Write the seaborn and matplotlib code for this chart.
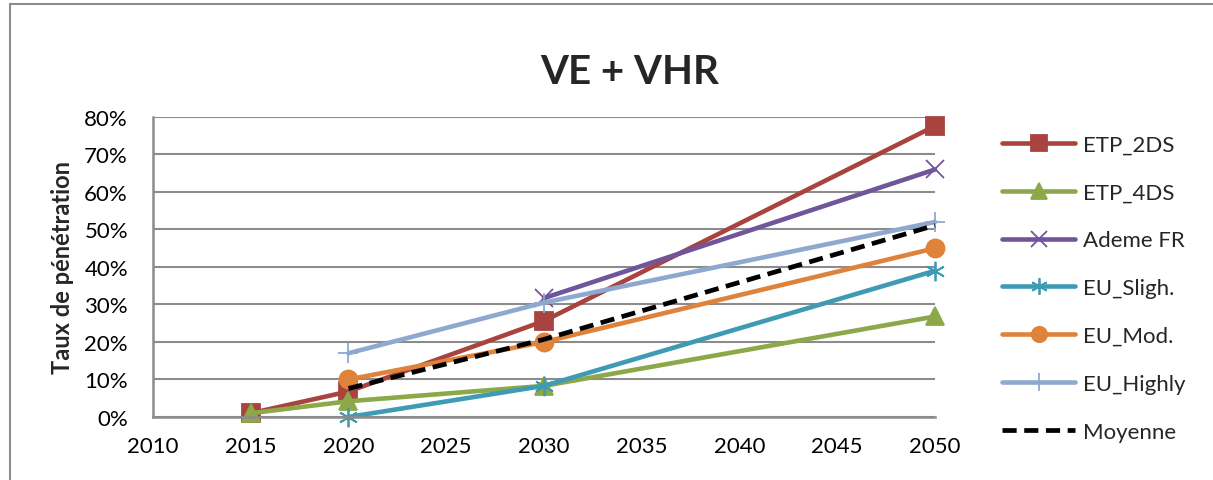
import matplotlib
matplotlib.use("Agg")
import matplotlib.pyplot as plt
from matplotlib.patches import Rectangle
from matplotlib.lines import Line2D
import seaborn as sns

# Penetration rates (%) of EV + PHEV by scenario
years_etp = [2015, 2020, 2030, 2050]
etp_2ds = [1.0, 6.8, 25.6, 77.6]
etp_4ds = [1.0, 4.2, 8.3, 26.8]

years_ademe = [2030, 2050]
ademe_fr = [31.7, 66.0]

years_eu = [2020, 2030, 2050]
eu_sligh = [0.0, 8.3, 39.0]
eu_mod = [10.0, 20.0, 45.0]
eu_highly = [17.0, 30.5, 52.0]

years_moy = [2020, 2030, 2050]
moyenne = [7.6, 20.7, 51.1]

y_ticks = [0, 10, 20, 30, 40, 50, 60, 70, 80]
x_ticks = [2010, 2015, 2020, 2025, 2030, 2035, 2040, 2045, 2050]

sns.set_style("white")
plt.rcParams["font.family"] = ["Lato", "DejaVu Sans"]

fig = plt.figure(figsize=(12.13, 4.81), dpi=100)
ax = fig.add_axes([0.1261, 0.131, 0.7708 - 0.1261, 0.7547 - 0.131])

# outer chart border
fig.patches.append(Rectangle((10 / 1213, -0.05), 1.1, (481 - 5) / 481 + 0.05,
                             transform=fig.transFigure, fill=False,
                             edgecolor="#8c8c8c", linewidth=1.5))

lw = 3.3
series = [
    ("ETP_2DS", years_etp, etp_2ds, "#A9433F", "s", 13, "-"),
    ("ETP_4DS", years_etp, etp_4ds, "#8CA848", "^", 13, "-"),
    ("Ademe FR", years_ademe, ademe_fr, "#70559A", "x", 13, "-"),
    ("EU_Sligh.", years_eu, eu_sligh, "#3E9BB3", (6, 2, 0), 14, "-"),
    ("EU_Mod.", years_eu, eu_mod, "#DF823A", "o", 13, "-"),
    ("EU_Highly", years_eu, eu_highly, "#8FA8CF", "+", 15, "-"),
]

for name, xs, ys, col, mk, ms, ls in series:
    sns.lineplot(x=xs, y=ys, ax=ax, color=col, linewidth=lw, marker=mk,
                 markersize=ms, markeredgecolor=col, markeredgewidth=1.3,
                 linestyle=ls, label=name, legend=False)

sns.lineplot(x=years_moy, y=moyenne, ax=ax, color="black", linewidth=3.4,
             linestyle=(0, (3, 1.6)), label="Moyenne", legend=False)

ax.set_xlim(2010, 2050)
ax.set_ylim(0, 80)
ax.set_xticks(x_ticks)
ax.set_yticks(y_ticks)
ax.set_yticklabels([f"{v}%" for v in y_ticks])
ax.tick_params(axis="both", labelsize=16, length=0, colors="black")
ax.tick_params(axis="y", pad=18)
ax.tick_params(axis="x", pad=14)

ax.grid(axis="y", color="#8c8c8c", linewidth=1.5)
ax.grid(axis="x", visible=False)
for side in ["top", "right"]:
    ax.spines[side].set_visible(False)
for side in ["left", "bottom"]:
    ax.spines[side].set_color("#8c8c8c")
    ax.spines[side].set_linewidth(1.8)
ax.set_axisbelow(True)
for ln in ax.lines:
    ln.set_clip_on(False)

ax.set_ylabel("Taux de pénétration", fontsize=17, fontweight="bold", labelpad=7)
fig.text(630 / 1213, 1 - 72 / 481, "VE + VHR", ha="center", va="center",
         fontsize=29, fontweight="bold")

handles = []
for name, xs, ys, col, mk, ms, ls in series:
    handles.append(Line2D([], [], color=col, linewidth=lw, marker=mk,
                          markersize=ms * 0.85, markeredgecolor=col,
                          markeredgewidth=1.3, solid_capstyle="round"))
handles.append(Line2D([], [], color="black", linewidth=3.4, linestyle=(0, (3, 1.6))))
labels = [s[0] for s in series] + ["Moyenne"]
fig.legend(handles, labels, loc="upper left", bbox_to_anchor=(993 / 1213, 1 - 127 / 481),
           frameon=False, fontsize=16, handlelength=3.3, labelspacing=1.25,
           handletextpad=0.35, borderaxespad=0)

fig.savefig("out.png", dpi=100, facecolor="white")
